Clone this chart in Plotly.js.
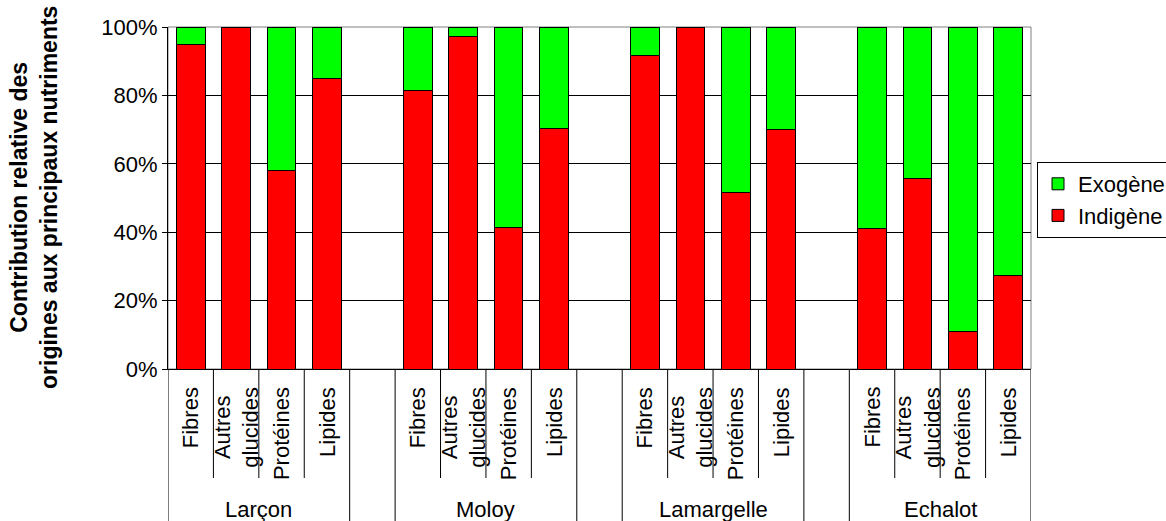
<!DOCTYPE html>
<html>
<head>
<meta charset="utf-8">
<script src="https://cdn.plot.ly/plotly-3.0.1.min.js"></script>
<style>html,body{margin:0;padding:0;background:#fff;}#chart{width:1166px;height:521px;}</style>
</head>
<body>
<div id="chart"></div>
<script>
// ---- data ----
const groups = ['Larçon', 'Moloy', 'Lamargelle', 'Echalot'];
const nutrients = ['Fibres', 'Autres<br>glucides', 'Protéines', 'Lipides'];
const indigeneLarcon = [95, 100, 58, 85];
const indigeneMoloy = [81.5, 97.3, 41.5, 70.4];
const indigeneLamargelle = [91.7, 100, 51.5, 70];
const indigeneEchalot = [41, 55.7, 11, 27.2];
const exogeneLarcon = [5, 0, 42, 15];
const exogeneMoloy = [18.5, 2.7, 58.5, 29.6];
const exogeneLamargelle = [8.3, 0, 48.5, 30];
const exogeneEchalot = [59, 44.3, 89, 72.8];
const yTicks = [0, 20, 40, 60, 80, 100];

const indigene = [indigeneLarcon, indigeneMoloy, indigeneLamargelle, indigeneEchalot];
const exogene = [exogeneLarcon, exogeneMoloy, exogeneLamargelle, exogeneEchalot];

// ---- build ----
const FONT = 'Liberation Sans, Arial, sans-serif';
const FS = 22;
const slotsPerGroup = nutrients.length + 1; // one empty slot between groups
const xs = [], yInd = [], yExo = [];
groups.forEach((g, gi) => {
  nutrients.forEach((n, ni) => {
    xs.push(gi * slotsPerGroup + ni);
    yInd.push(indigene[gi][ni]);
    yExo.push(exogene[gi][ni]);
  });
});
const nSlots = groups.length * slotsPerGroup - 1;

const traces = [
  {type: 'bar', name: 'Indigène', x: xs, y: yInd, width: 0.63,
   marker: {color: '#FF0000', line: {color: '#000', width: 1}}, hoverinfo: 'none'},
  {type: 'bar', name: 'Exogène', x: xs, y: yExo, width: 0.63,
   marker: {color: '#00FF00', line: {color: '#000', width: 1}}, hoverinfo: 'none'}
];

const annotations = [];
const shapes = [];
const plotW = 863, plotH = 342;
const px2paper = p => -p / plotH;

groups.forEach((g, gi) => {
  nutrients.forEach((n, ni) => {
    annotations.push({
      text: n, x: gi * slotsPerGroup + ni, xref: 'x', y: 0, yref: 'paper',
      yshift: -16, textangle: -90, xanchor: 'center', yanchor: 'top',
      showarrow: false, align: 'center', font: {family: FONT, size: FS, color: '#000'}
    });
  });
  annotations.push({
    text: g, x: gi * slotsPerGroup + (nutrients.length - 1) / 2, xref: 'x',
    y: 0, yref: 'paper', yshift: -140, xanchor: 'center', yanchor: 'middle',
    showarrow: false, font: {family: FONT, size: FS, color: '#000'}
  });
});

// divider lines under the axis
for (let k = 0; k <= nSlots + 1; k++) {
  const inGroupPos = k % slotsPerGroup;
  const isGroupEdge = (inGroupPos === 0) || (inGroupPos === nutrients.length);
  shapes.push({
    type: 'line', xref: 'x', yref: 'paper', x0: k - 0.5, x1: k - 0.5,
    y0: 0, y1: isGroupEdge ? px2paper(160) : px2paper(109),
    line: {color: '#000', width: 1}
  });
}
// plot area border (gray)
shapes.push({type: 'rect', xref: 'paper', yref: 'paper', x0: 0, x1: 1, y0: 0, y1: 1,
  line: {color: '#808080', width: 1}, layer: 'below'});

annotations.push({
  text: '<b>Contribution relative des<br>origines aux principaux nutriments</b>',
  xref: 'paper', yref: 'paper', x: (34 - 168) / plotW, y: 0.5, textangle: -90,
  xanchor: 'center', yanchor: 'middle', showarrow: false, align: 'center',
  font: {family: FONT, size: 23, color: '#000'}
});

const layout = {
  width: 1166, height: 521,
  margin: {l: 168, r: 135, t: 27, b: 152, autoexpand: false},
  paper_bgcolor: '#fff', plot_bgcolor: '#fff',
  barmode: 'stack',
  showlegend: true,
  font: {family: FONT, size: FS, color: '#000'},
  xaxis: {range: [-0.5, nSlots - 0.5], showticklabels: false, showgrid: false,
    zeroline: false, showline: true, linecolor: '#000', linewidth: 1, ticks: '', fixedrange: true},
  yaxis: {range: [0, 100], tickvals: yTicks, ticktext: yTicks.map(v => v + '%'),
    showgrid: true, gridcolor: '#000', gridwidth: 1, zeroline: false,
    showline: true, linecolor: '#000', linewidth: 1, ticks: 'outside', ticklen: 5,
    tickcolor: '#000', tickfont: {family: FONT, size: FS, color: '#000'}, fixedrange: true},
  legend: {x: (1037 - 168) / plotW, xanchor: 'left', y: (369 - 162) / plotH, yanchor: 'top',
    traceorder: 'reversed', bordercolor: '#000', borderwidth: 1, bgcolor: '#fff',
    font: {family: FONT, size: FS, color: '#000'}, itemwidth: 30, tracegroupgap: 0},
  annotations: annotations,
  shapes: shapes
};

Plotly.newPlot('chart', traces, layout, {displayModeBar: false, staticPlot: true});
</script>
</body>
</html>
